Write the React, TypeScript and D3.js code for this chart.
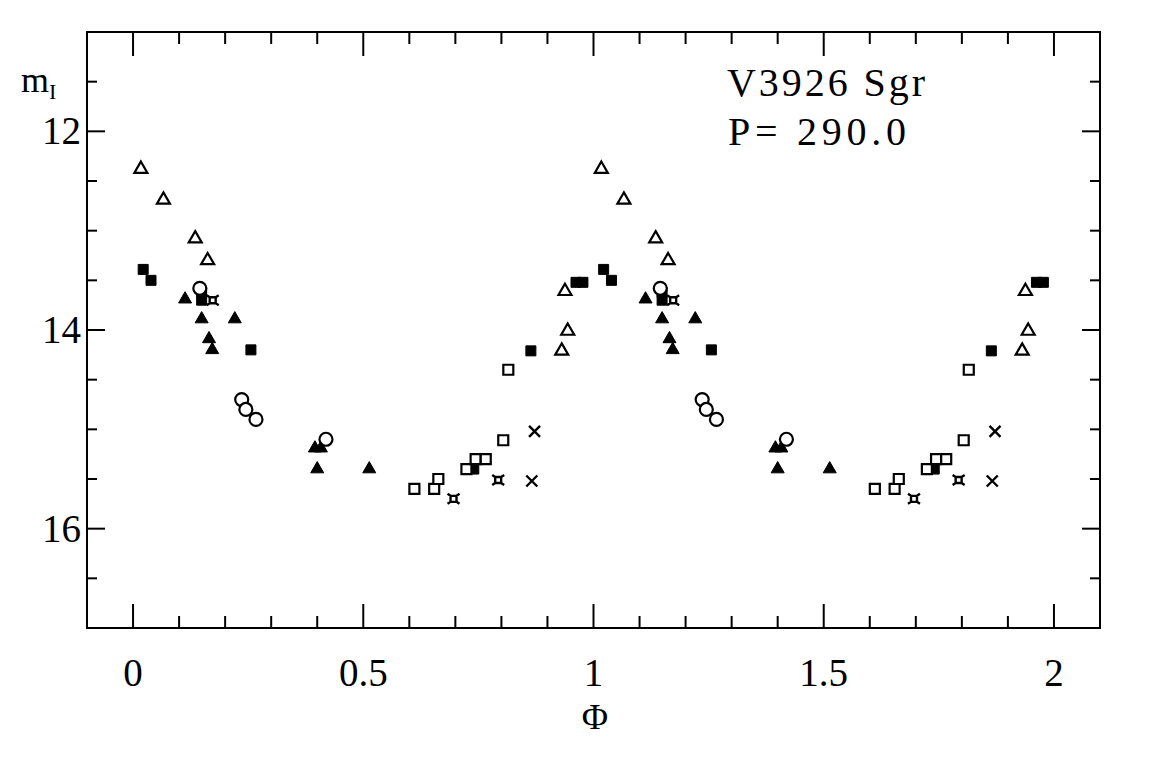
import React from "react";
import * as d3 from "d3";

// Phase (0..1) and I magnitude per observing series; each point is drawn at phase and phase + 1
const openTriPhase = [0.017, 0.066, 0.135, 0.162, 0.931, 0.944, 0.938];
const openTriMag = [12.38, 12.69, 13.08, 13.3, 14.21, 14.01, 13.61];

const fillTriPhase = [0.113, 0.149, 0.221, 0.165, 0.172, 0.395, 0.408, 0.4, 0.513];
const fillTriMag = [13.69, 13.89, 13.89, 14.09, 14.2, 15.19, 15.19, 15.4, 15.4];

const fillSqPhase = [0.022, 0.039, 0.149, 0.149, 0.256, 0.74, 0.864, 0.962, 0.977];
const fillSqMag = [13.39, 13.5, 13.62, 13.7, 14.2, 15.4, 14.21, 13.52, 13.52];

const openSqPhase = [0.611, 0.654, 0.663, 0.724, 0.744, 0.766, 0.804, 0.815];
const openSqMag = [15.6, 15.6, 15.5, 15.4, 15.3, 15.3, 15.11, 14.4];

const circlePhase = [0.145, 0.236, 0.245, 0.267, 0.419];
const circleMag = [13.58, 14.7, 14.8, 14.9, 15.1];

const crossPhase = [0.872, 0.866];
const crossMag = [15.02, 15.52];

const starPhase = [0.173, 0.696, 0.793];
const starMag = [13.7, 15.7, 15.51];

const xMajorTicks = [0, 0.5, 1, 1.5, 2];
const xTickLabels = ["0", "0.5", "1", "1.5", "2"];
const yMajorTicks = [12, 14, 16];
const yTickLabels = ["12", "14", "16"];

const starName = "V3926 Sgr";
const periodText = "P= 290.0";

const W = 1170;
const H = 768;
const left = 87;
const right = 1100;
const top = 32;
const bottom = 628;

const x = d3.scaleLinear().domain([-0.1, 2.1]).range([left, right]);
const y = d3.scaleLinear().domain([11, 17]).range([top, bottom]);

type Kind = "otri" | "ftri" | "fsq" | "osq" | "circ" | "cross" | "star";

function markerPath(kind: Kind, cx: number, cy: number): string {
  const p = d3.path();
  if (kind === "otri" || kind === "ftri") {
    const s = 13;
    const h = (s * Math.sqrt(3)) / 2;
    p.moveTo(cx, cy - (2 * h) / 3);
    p.lineTo(cx + s / 2, cy + h / 3);
    p.lineTo(cx - s / 2, cy + h / 3);
    p.closePath();
  } else if (kind === "fsq" || kind === "osq") {
    const s = 10;
    p.rect(cx - s / 2, cy - s / 2, s, s);
  } else if (kind === "circ") {
    p.moveTo(cx + 6.5, cy);
    p.arc(cx, cy, 6.5, 0, Math.PI * 2);
  } else if (kind === "cross") {
    const a = 5.5;
    p.moveTo(cx - a, cy - a);
    p.lineTo(cx + a, cy + a);
    p.moveTo(cx + a, cy - a);
    p.lineTo(cx - a, cy + a);
  } else {
    const s = 3;
    const e = 6;
    p.moveTo(cx - e, cy - e + 1);
    p.lineTo(cx - s, cy - s);
    p.lineTo(cx + s, cy - s);
    p.lineTo(cx + e, cy - e + 1);
    p.moveTo(cx + s, cy - s);
    p.lineTo(cx + s, cy + s);
    p.lineTo(cx + e, cy + e - 1);
    p.moveTo(cx + s, cy + s);
    p.lineTo(cx - s, cy + s);
    p.lineTo(cx - e, cy + e - 1);
    p.moveTo(cx - s, cy + s);
    p.lineTo(cx - s, cy - s);
  }
  return p.toString();
}

const series: { kind: Kind; phase: number[]; mag: number[] }[] = [
  { kind: "otri", phase: openTriPhase, mag: openTriMag },
  { kind: "ftri", phase: fillTriPhase, mag: fillTriMag },
  { kind: "fsq", phase: fillSqPhase, mag: fillSqMag },
  { kind: "osq", phase: openSqPhase, mag: openSqMag },
  { kind: "circ", phase: circlePhase, mag: circleMag },
  { kind: "cross", phase: crossPhase, mag: crossMag },
  { kind: "star", phase: starPhase, mag: starMag },
];

function styleFor(kind: Kind) {
  if (kind === "ftri" || kind === "fsq") return { fill: "#000", stroke: "#000", strokeWidth: 1 };
  if (kind === "cross") return { fill: "none", stroke: "#000", strokeWidth: 2.4 };
  if (kind === "star") return { fill: "none", stroke: "#000", strokeWidth: 2.4 };
  return { fill: "#fff", stroke: "#000", strokeWidth: 2.2 };
}

export default function App() {
  const xMinor = d3.range(-0.1, 2.1001, 0.1).map((v) => Math.round(v * 10) / 10);
  const yMinor = d3.range(11, 17.001, 0.5);
  const font = "'Liberation Serif', 'DejaVu Serif', serif";

  const marks: React.ReactNode[] = [];
  series.forEach((s) => {
    s.phase.forEach((ph, i) => {
      [0, 1].forEach((shift) => {
        const px = ph + shift;
        if (px < -0.1 || px > 2.1) return;
        const st = styleFor(s.kind);
        marks.push(
          <path
            key={`${s.kind}-${i}-${shift}`}
            d={markerPath(s.kind, x(px), y(s.mag[i]))}
            fill={st.fill}
            stroke={st.stroke}
            strokeWidth={st.strokeWidth}
            strokeLinejoin="miter"
          />
        );
      });
    });
  });

  return (
    <svg
      width={W}
      height={H}
      style={{ position: "absolute", left: 0, top: 0, background: "#fff" }}
      fontFamily={font}
    >
      <rect x={0} y={0} width={W} height={H} fill="#fff" />
      {/* ticks */}
      <g stroke="#000" strokeWidth={2}>
        {xMinor.map((v) => {
          const major = xMajorTicks.some((m) => Math.abs(m - v) < 1e-6);
          const len = major ? 24 : 12;
          return (
            <g key={`xt${v}`}>
              <line x1={x(v)} x2={x(v)} y1={bottom} y2={bottom - len} />
              <line x1={x(v)} x2={x(v)} y1={top} y2={top + len} />
            </g>
          );
        })}
        {yMinor.map((v) => {
          const major = yMajorTicks.some((m) => Math.abs(m - v) < 1e-6);
          const len = major ? 18 : 10;
          return (
            <g key={`yt${v}`}>
              <line x1={left} x2={left + len} y1={y(v)} y2={y(v)} />
              <line x1={right} x2={right - len} y1={y(v)} y2={y(v)} />
            </g>
          );
        })}
      </g>
      <rect x={left} y={top} width={right - left} height={bottom - top} fill="none" stroke="#000" strokeWidth={2} />

      {/* tick labels */}
      {xMajorTicks.map((v, i) => (
        <text key={`xl${v}`} x={x(v)} y={686} textAnchor="middle" fontSize={39} fill="#000">
          {xTickLabels[i]}
        </text>
      ))}
      {yMajorTicks.map((v, i) => (
        <text key={`yl${v}`} x={81} y={y(v) + 13} textAnchor="end" fontSize={39} fill="#000">
          {yTickLabels[i]}
        </text>
      ))}

      {/* axis labels */}
      <text x={595} y={729} textAnchor="middle" fontSize={36} fill="#000">Φ</text>
      <text x={21} y={92} fontSize={36} fill="#000">
        m
        <tspan fontSize={22} dy={7}>I</tspan>
      </text>

      {/* annotation */}
      <text x={727} y={96} fontSize={40} fill="#000" textLength={198} lengthAdjust="spacing">
        {starName}
      </text>
      <text x={728} y={145} fontSize={40} fill="#000" textLength={178} lengthAdjust="spacing">
        {periodText}
      </text>

      {marks}
    </svg>
  );
}
